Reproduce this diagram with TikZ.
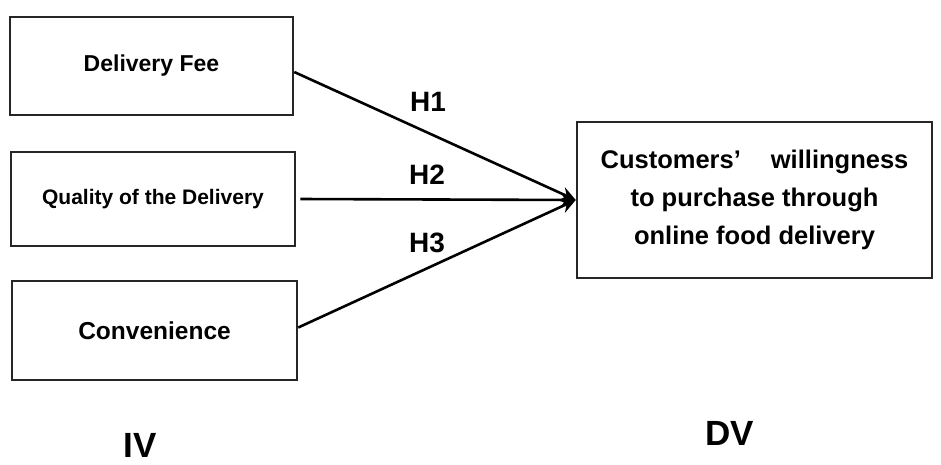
\documentclass[tikz,border=0pt]{standalone}
\usepackage{fontspec}
\setmainfont{Liberation Sans}
\usetikzlibrary{arrows.meta}
\begin{document}
\begin{tikzpicture}[x=1pt,y=-1pt,
  box/.style={draw=black!85,line width=2.5pt,inner sep=0pt,font=\bfseries},
  conn/.style={line width=2.6pt,-{Stealth[length=15pt,width=14pt,inset=5pt]}},
  lab/.style={font=\bfseries\fontsize{28}{30}\selectfont},
  big/.style={font=\bfseries\fontsize{35}{38}\selectfont}]
\useasboundingbox (0,0) rectangle (941,464);
\node[box,minimum width=283pt,minimum height=98pt,font=\bfseries\fontsize{23}{26}\selectfont] (b1) at (151.5,66) {Delivery Fee};
\node[box,minimum width=284pt,minimum height=94pt,font=\bfseries\fontsize{21}{24}\selectfont] (b2) at (153,199) {Quality of the Delivery};
\node[box,minimum width=285pt,minimum height=99pt,font=\bfseries\fontsize{24.5}{28}\selectfont] (b3) at (154.5,330.5) {Convenience};
\node[box,minimum width=355pt,minimum height=156pt,align=center,font=\bfseries\fontsize{25.5}{38}\selectfont] (dv) at (754.5,200) {Customers’\hspace{30pt}willingness\\to purchase through\\online food delivery};
\draw[conn] ([yshift=-6pt]b1.east) -- (dv.west);
\draw[conn] ([xshift=4pt]b2.east) -- (dv.west);
\draw[conn] ([yshift=3pt]b3.east) -- (dv.west);
\node[lab] (h1) at (428,102) {H1};
\node[lab] (h2) at (427,175) {H2};
\node[lab] (h3) at (427,243) {H3};
\node[big] (iv) at (140,445) {IV};
\node[big] (dvl) at (730,433) {DV};
\end{tikzpicture}
\end{document}
